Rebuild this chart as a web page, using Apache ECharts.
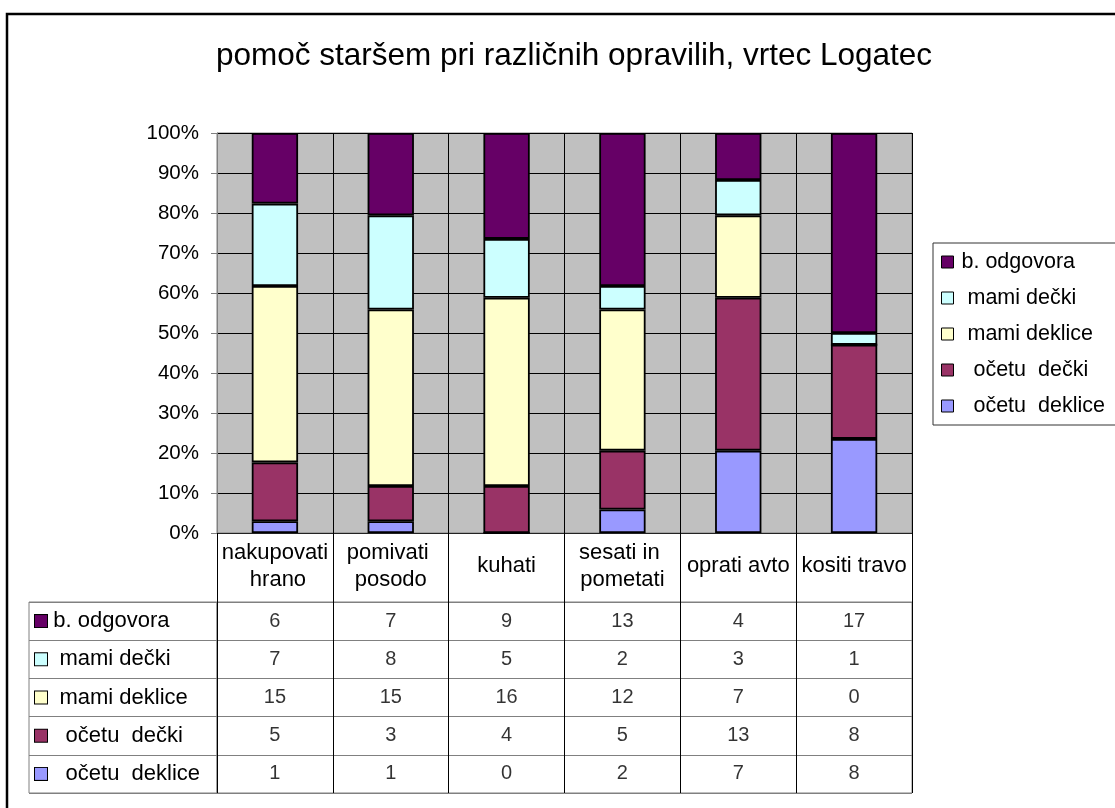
<!DOCTYPE html>
<html>
<head>
<meta charset="utf-8">
<script src="https://cdn.jsdelivr.net/npm/echarts@6/dist/echarts.min.js"></script>
<style>
  html, body { margin: 0; padding: 0; background: #fff; }
  #chart { width: 1115px; height: 808px; }
</style>
</head>
<body>
<div id="chart"></div>
<script>
// kategorije in podatki (stevilo otrok)
var categories = ['nakupovati hrano', 'pomivati posodo', 'kuhati', 'sesati in pometati', 'oprati avto', 'kositi travo']
var rowNames = ['b. odgovora', ' mami dečki', ' mami deklice', '  očetu  dečki', '  očetu  deklice']
var bOdgovora = [6, 7, 9, 13, 4, 17]
var mamiDecki = [7, 8, 5, 2, 3, 1]
var mamiDeklice = [15, 15, 16, 12, 7, 0]
var ocetuDecki = [5, 3, 4, 5, 13, 8]
var ocetuDeklice = [1, 1, 0, 2, 7, 8]
var yTicks = [0, 10, 20, 30, 40, 50, 60, 70, 80, 90, 100]

// vrstice tabele od zgoraj navzdol
var rows = [bOdgovora, mamiDecki, mamiDeklice, ocetuDecki, ocetuDeklice]
var colors = ['#660066', '#CCFFFF', '#FFFFCC', '#993366', '#9999FF']

var font = 'Liberation Sans, Arial, sans-serif'

// vsote po stolpcih -> 100 %
var totals = categories.map(function(c, i) {
  return rows.reduce(function(s, r) { return s + r[i] }, 0)
})

// stolpci: od spodaj (ocetu deklice) do vrha (b. odgovora)
var series = []
for (var k = rows.length - 1; k >= 0; k--) {
  series.push({
    name: rowNames[k],
    type: 'bar',
    stack: 'all',
    xAxisIndex: 0,
    yAxisIndex: 0,
    barWidth: '40%',
    itemStyle: { color: colors[k], borderColor: '#000', borderWidth: 1.8 },
    data: rows[k].map(function(v, i) { return v / totals[i] * 100 })
  })
}

// vrednosti v tabeli
var cells = []
rows.forEach(function(r, ri) {
  r.forEach(function(v, ci) { cells.push([ci, ri, v]) })
})
series.push({
  type: 'scatter',
  xAxisIndex: 1,
  yAxisIndex: 1,
  symbolSize: 1,
  itemStyle: { color: 'rgba(0,0,0,0)' },
  silent: true,
  label: {
    show: true,
    position: 'inside',
    color: '#000',
    fontFamily: font,
    fontSize: 20,
    formatter: function(p) { return p.value[2] }
  },
  data: cells
})

// rich kvadratki za oznake vrstic
var rich = { t: { fontFamily: font, fontSize: 22, color: '#000', padding: [0, 0, 0, 3] } }
colors.forEach(function(c, i) {
  rich['s' + i] = { width: 12, height: 12, backgroundColor: c, borderColor: '#000', borderWidth: 1 }
})

var option = {
  backgroundColor: '#fff',
  animation: false,
  title: {
    text: 'pomoč staršem pri različnih opravilih, vrtec Logatec',
    left: 569,
    textAlign: 'center',
    top: 35,
    textStyle: { fontFamily: font, fontSize: 31.5, fontWeight: 'normal', color: '#000' }
  },
  legend: {
    orient: 'vertical',
    left: 933,
    top: 243,
    padding: [8, 120, 8, 8],
    itemGap: 14,
    itemWidth: 12,
    itemHeight: 12,
    icon: 'rect',
    borderColor: '#333',
    borderWidth: 1,
    itemStyle: { borderColor: '#000', borderWidth: 1 },
    textStyle: { fontFamily: font, fontSize: 21.5, color: '#000', padding: [0, 0, 0, 3] },
    data: rowNames
  },
  graphic: [{
    type: 'rect',
    shape: { x: 7, y: 14, width: 1200, height: 900 },
    style: { fill: 'none', stroke: '#000', lineWidth: 2.5 },
    silent: true
  }],
  grid: [
    { left: 217, right: 203, top: 133, bottom: 275, show: true, backgroundColor: '#C0C0C0', borderColor: '#808080', borderWidth: 1, outerBoundsMode: 'none' },
    { left: 217, right: 203, top: 602, bottom: 15, show: true, borderColor: '#808080', borderWidth: 1, outerBoundsMode: 'none' },
    { left: 29, width: 188, top: 602, bottom: 15, show: true, borderColor: '#808080', borderWidth: 1, outerBoundsMode: 'none' }
  ],
  xAxis: [
    {
      type: 'category',
      gridIndex: 0,
      data: categories,
      axisLine: { lineStyle: { color: '#222', width: 1 } },
      axisTick: { show: true, length: 69, interval: 0, lineStyle: { color: '#000' } },
      splitLine: { show: true, interval: 0, lineStyle: { color: '#000', width: 1 } },
      axisLabel: {
        interval: 0,
        margin: 33,
        verticalAlign: 'middle',
        width: 112,
        overflow: 'break',
        lineHeight: 27,
        fontFamily: font,
        fontSize: 22,
        color: '#000'
      }
    },
    {
      type: 'category',
      gridIndex: 1,
      data: categories,
      axisLine: { show: false },
      axisTick: { show: false },
      axisLabel: { show: false },
      splitLine: { show: true, interval: 0, lineStyle: { color: '#000', width: 1 } }
    },
    { type: 'value', gridIndex: 2, min: 0, max: 1, show: false }
  ],
  yAxis: [
    {
      type: 'value',
      gridIndex: 0,
      min: yTicks[0],
      max: yTicks[yTicks.length - 1],
      interval: yTicks[1] - yTicks[0],
      axisLine: { show: true, lineStyle: { color: '#808080' } },
      axisTick: { show: true, length: 6, lineStyle: { color: '#808080' } },
      splitLine: { show: true, lineStyle: { color: '#000', width: 1 } },
      axisLabel: { margin: 18, fontFamily: font, fontSize: 20.5, color: '#000', formatter: '{value}%' }
    },
    {
      type: 'category',
      gridIndex: 1,
      inverse: true,
      data: rowNames,
      axisLine: { show: false },
      axisTick: { show: false },
      axisLabel: { show: false },
      splitLine: { show: true, interval: 0, lineStyle: { color: '#808080', width: 1 } }
    },
    {
      type: 'category',
      gridIndex: 2,
      inverse: true,
      data: rowNames,
      axisLine: { show: false },
      axisTick: { show: false },
      splitLine: { show: true, interval: 0, lineStyle: { color: '#808080', width: 1 } },
      axisLabel: {
        inside: true,
        margin: 6,
        align: 'left',
        interval: 0,
        formatter: function(v, i) { return '{s' + i + '|} {t|' + v + '}' },
        rich: rich
      }
    }
  ],
  series: series
}

var myChart = echarts.init(document.getElementById('chart'))
myChart.setOption(option)
</script>
</body>
</html>
